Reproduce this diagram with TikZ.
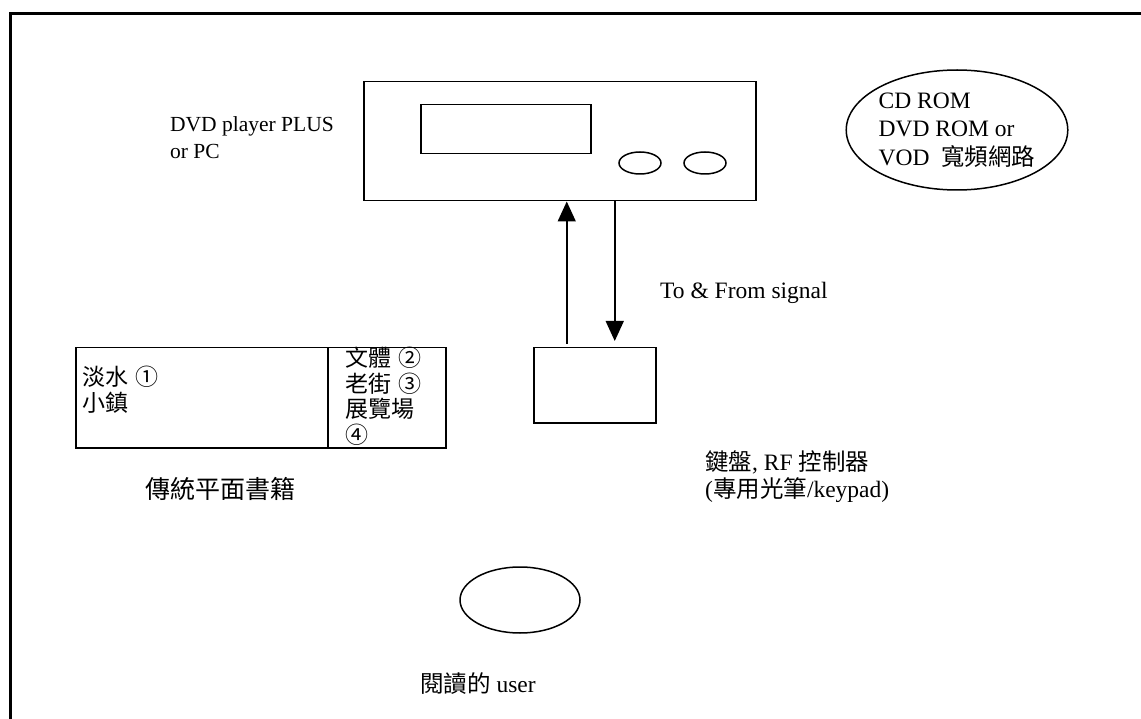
\documentclass[tikz,border=0pt]{standalone}
\usepackage{fontspec}
\setmainfont{Liberation Serif}
\newfontfamily\cjk{Noto Sans CJK TC}
\usetikzlibrary{shapes.geometric,arrows.meta}
\begin{document}
\begin{tikzpicture}[x=1pt,y=-1pt,
  box/.style={draw,line width=1.5pt,inner sep=0pt,anchor=north west},
  oval/.style={draw,ellipse,line width=1.5pt,inner sep=0pt},
  lbl/.style={inner sep=0pt,anchor=north west,align=left,font=\fontsize{23.5}{27}\selectfont},
  cj/.style={inner sep=0pt,anchor=north west,align=left,font=\cjk\fontsize{23}{25.5}\selectfont},
  arr/.style={line width=1.5pt,-{Triangle[width=18pt,length=20pt]}}]
\useasboundingbox (0,0) rectangle (1141,719);
\draw[line width=3pt] (10,740) -- (10,14) -- (1160,14);
% DVD player
\node[box,minimum width=392,minimum height=119] (dvd) at (363,81) {};
\node[box,minimum width=170,minimum height=49] (disp) at (420,104) {};
\node[oval,minimum width=42,minimum height=22] (b1) at (640,163) {};
\node[oval,minimum width=42,minimum height=22] (b2) at (705,163) {};
\node[lbl,font=\fontsize{21.5}{27}\selectfont] (dvdlbl) at (170,116) {DVD player PLUS\\or PC};
% network
\node[oval,minimum width=212,minimum height=120,align=left,font=\fontsize{23.5}{28.5}\selectfont] (net) at (957,130) {CD ROM\\DVD ROM or\\VOD\ \ {\cjk 寬頻網路}};
% keypad
\node[box,minimum width=122,minimum height=75] (key) at (533,347) {};
\draw[arr] ([xshift=-28pt,yshift=3pt]key.north) -- ([xshift=-28pt]key.north |- dvd.south);
\draw[arr] ([xshift=20pt]key.north |- dvd.south) -- ([xshift=20pt,yshift=6pt]key.north);
\node[lbl] (sig) at (660,282) {To \& From signal};
\node[lbl] (keylbl) at (705,450) {{\cjk 鍵盤}, RF {\cjk 控制器}\\({\cjk 專用光筆}/keypad)};
% book
\node[box,minimum width=252,minimum height=100] (bookL) at (75,347) {};
\node[box,minimum width=118,minimum height=100] (bookR) at (327,347) {};
\node[cj] (tl) at (82,366) {淡水\hspace{7pt}①\\小鎮};
\node[cj] (tr) at (345,347) {文體\hspace{7pt}②\\老街\hspace{7pt}③\\展覽場\\④};
\node[cj,font=\cjk\fontsize{25}{27}\selectfont] (booklbl) at (145,477) {傳統平面書籍};
% user
\node[oval,minimum width=120,minimum height=66] (user) at (520,600) {};
\node[lbl] (userlbl) at (420,672) {{\cjk 閱讀的} user};
\end{tikzpicture}
\end{document}
